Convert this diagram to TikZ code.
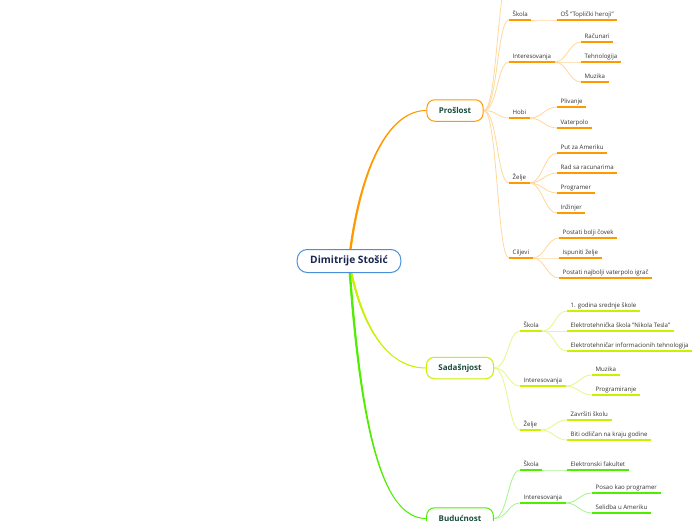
\documentclass[tikz,border=0pt]{standalone}
\usepackage{fontspec}
\setmainfont{Open Sans}
\pgfdeclarelayer{bg}
\pgfsetlayers{bg,main}
\definecolor{orA}{HTML}{FF9900}
\definecolor{orL}{HTML}{FFD89A}
\definecolor{ygA}{HTML}{CCEE00}
\definecolor{ygL}{HTML}{E6F78C}
\definecolor{grA}{HTML}{4FEE00}
\definecolor{grL}{HTML}{A6F58C}
\definecolor{rootblue}{HTML}{4A90D9}
\definecolor{rootink}{HTML}{1A2750}
\definecolor{mainink}{HTML}{1B4D3E}
\definecolor{leafink}{HTML}{333333}
\newcommand\tp[5]{\node[topic] (#1) at (#2,#3) {#5}; \draw[ul=#4] (#1.south west) -- (#1.south east);}
\newcommand\lk[4]{\draw[#1] (#2) .. controls +(#4,0) and +(-#4,0) .. (#3);}
% tapered main branch: colour, target node, c1x, c1y, c2x, c2y
\newcommand\taper[6]{\filldraw[fill=#1, draw=#1, line width=0.9pt]
  ([xshift=-0.7pt]root.center) .. controls (#3-0.7,#4) and (#5,#6-0.3) .. (#2.west)
  .. controls (#5,#6+0.3) and (#3+0.7,#4) .. ([xshift=0.7pt]root.center) -- cycle;}
\begin{document}
\begin{tikzpicture}[x=1pt,y=-1pt,
  topic/.style={anchor=south west, inner xsep=3.5pt, inner ysep=2.4pt, text height=4.6pt, text depth=1.3pt, font=\fontsize{6.1}{7}\selectfont, text=leafink},
  ul/.style={draw=#1, line width=1.3pt},
  fan/.style={draw=#1, line width=0.8pt},
  mainbox/.style={draw=#1, line width=1pt, fill=white, rounded corners=8pt, minimum height=21.5pt, inner xsep=12pt, font=\fontsize{8}{9}\selectfont\bfseries, text=mainink},
  rootbox/.style={draw=rootblue, line width=1pt, fill=white, rounded corners=10pt, minimum height=23pt, inner xsep=13pt, font=\fontsize{10.2}{12}\selectfont\bfseries, text=rootink}]
\useasboundingbox (0,0) rectangle (696,520);

\node[rootbox] (root) at (349,261) {Dimitrije Stošić};
\node[mainbox=orA] (pro) at (455,110.5) {Prošlost};
\node[mainbox=ygA] (sad) at (460,368) {Sadašnjost};
\node[mainbox=grA] (bud) at (460,518.5) {Budućnost};
\coordinate (offtop) at (509,-22);

% Proslost
\tp{p1}{509}{20}{orA}{Škola}
\tp{p1a}{557}{20}{orA}{OŠ "Toplički heroji"}
\tp{p2}{509}{62}{orA}{Interesovanja}
\tp{p2a}{581}{42}{orA}{Računari}
\tp{p2b}{581}{62}{orA}{Tehnologija}
\tp{p2c}{581}{82}{orA}{Muzika}
\tp{p3}{509}{118}{orA}{Hobi}
\tp{p3a}{557}{107}{orA}{Plivanje}
\tp{p3b}{557}{128}{orA}{Vaterpolo}
\tp{p4}{509}{183}{orA}{Želje}
\tp{p4a}{557}{153}{orA}{Put za Ameriku}
\tp{p4b}{557}{173}{orA}{Rad sa racunarima}
\tp{p4c}{557}{193}{orA}{Programer}
\tp{p4d}{557}{213}{orA}{Inžinjer}
\tp{p5}{509}{258}{orA}{Ciljevi}
\tp{p5a}{559}{238}{orA}{Postati bolji čovek}
\tp{p5b}{559}{258}{orA}{Ispuniti želje}
\tp{p5c}{559}{278}{orA}{Postati najbolji vaterpolo igrač}

% Sadasnjost
\tp{s1}{520}{331}{ygA}{Škola}
\tp{s1a}{567}{311}{ygA}{1. godina srednje škole}
\tp{s1b}{567}{331}{ygA}{Elektrotehnička škola "Nikola Tesla"}
\tp{s1c}{567}{351}{ygA}{Elektrotehničar informacionih tehnologija}
\tp{s2}{520}{386}{ygA}{Interesovanja}
\tp{s2a}{592}{375}{ygA}{Muzika}
\tp{s2b}{592}{395}{ygA}{Programiranje}
\tp{s3}{520}{430}{ygA}{Želje}
\tp{s3a}{567}{420}{ygA}{Završiti školu}
\tp{s3b}{567}{440}{ygA}{Biti odličan na kraju godine}

% Buducnost
\tp{b1}{520}{470}{grA}{Škola}
\tp{b1a}{567}{470}{grA}{Elektronski fakultet}
\tp{b2}{520}{503}{grA}{Interesovanja}
\tp{b2a}{592}{493}{grA}{Posao kao programer}
\tp{b2b}{592}{513}{grA}{Selidba u Ameriku}

\begin{pgfonlayer}{bg}
\fill[white] (0,0) rectangle (696,520);
\taper{orA}{pro}{358}{180}{384}{110.5}
\taper{ygA}{sad}{360}{322}{385}{368}
\taper{grA}{bud}{360}{420}{380}{518.5}
% proslost level 1
\foreach \q in {offtop,p1.south west,p2.south west,p3.south west,p4.south west,p5.south west}
  {\draw[fan=orL] (pro.east) .. controls +(14,0) and +(-12,0) .. (\q);}
\lk{fan=orL}{p1.south east}{p1a.south west}{10}
\foreach \q in {p2a,p2b,p2c} {\lk{fan=orL}{p2.south east}{\q.south west}{12}}
\foreach \q in {p3a,p3b} {\lk{fan=orL}{p3.south east}{\q.south west}{12}}
\foreach \q in {p4a,p4b,p4c,p4d} {\lk{fan=orL}{p4.south east}{\q.south west}{12}}
\foreach \q in {p5a,p5b,p5c} {\lk{fan=orL}{p5.south east}{\q.south west}{12}}
% sadasnjost
\foreach \q in {s1,s2,s3}
  {\draw[fan=ygL] (sad.east) .. controls +(14,0) and +(-12,0) .. (\q.south west);}
\foreach \q in {s1a,s1b,s1c} {\lk{fan=ygL}{s1.south east}{\q.south west}{12}}
\foreach \q in {s2a,s2b} {\lk{fan=ygL}{s2.south east}{\q.south west}{12}}
\foreach \q in {s3a,s3b} {\lk{fan=ygL}{s3.south east}{\q.south west}{12}}
% buducnost
\foreach \q in {b1,b2}
  {\draw[fan=grL] (bud.east) .. controls +(14,0) and +(-12,0) .. (\q.south west);}
\lk{fan=grL}{b1.south east}{b1a.south west}{10}
\foreach \q in {b2a,b2b} {\lk{fan=grL}{b2.south east}{\q.south west}{12}}
\end{pgfonlayer}
\end{tikzpicture}
\end{document}
